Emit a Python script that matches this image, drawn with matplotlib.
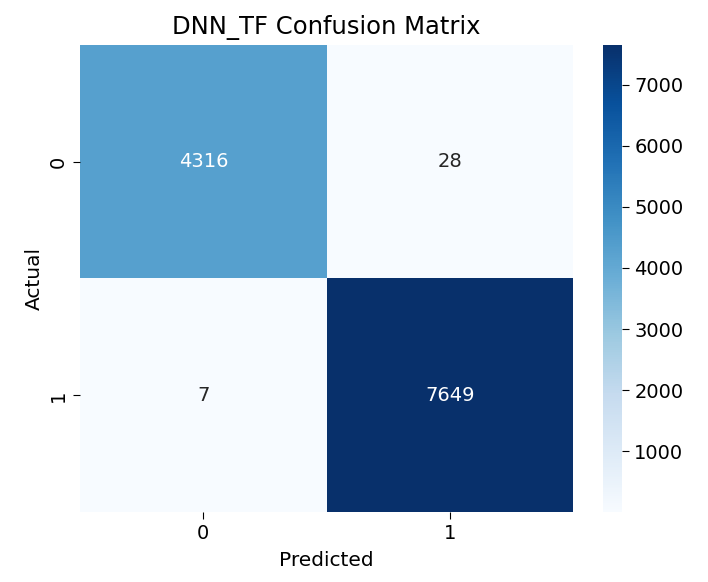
import numpy as np
import matplotlib
matplotlib.use("Agg")
import matplotlib.pyplot as plt
import seaborn as sns

# confusion matrix values
labels = ["0", "1"]
cm = np.array([[4316, 28],
               [7, 7649]])

fig = plt.figure(figsize=(7.08, 5.82), dpi=100)
ax = fig.add_axes([0.113, 0.120, 0.697, 0.803])
cax = fig.add_axes([0.852, 0.120, 0.027, 0.803])

sns.heatmap(cm, annot=True, fmt="d", cmap="Blues", ax=ax, cbar_ax=cax,
            xticklabels=labels, yticklabels=labels,
            annot_kws={"size": 14})

ax.set_title("DNN_TF Confusion Matrix", fontsize=17.5, pad=8)
ax.set_xlabel("Predicted", fontsize=14.5, labelpad=6)
ax.set_ylabel("Actual", fontsize=14.5)
ax.tick_params(labelsize=14, length=5)
cax.tick_params(labelsize=14, length=5)

fig.savefig("out.png", dpi=100)
